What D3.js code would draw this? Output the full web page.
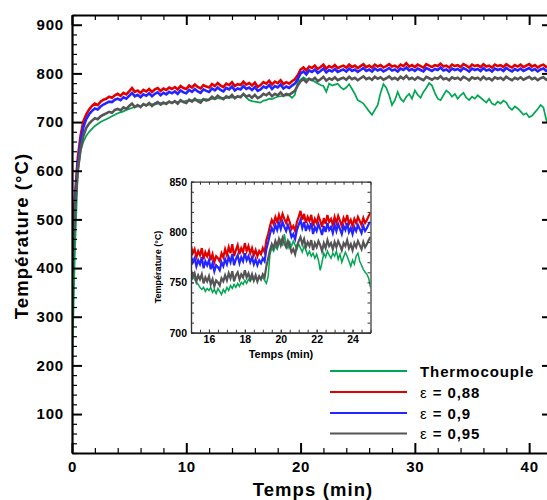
<!DOCTYPE html>
<html><head><meta charset="utf-8">
<script src="https://cdn.jsdelivr.net/npm/d3@7"></script>
<style>body{margin:0;background:#fff}svg{display:block}</style>
</head><body><svg id="c" width="547" height="500"></svg>
<script>
// ---------- DATA ----------
const seriesNames = ["Thermocouple", "0,88", "0,9", "0,95"];
const seriesColors = ["#00a651", "#e00000", "#2424ff", "#555555"];
const mainStart = 0, mainStep = 0.25;   // minutes
const thermocouple = [
 190,430,595,640,660,672,680,686,692,696,700,703,
 706,709,712,715,718,720,722,725,727,729,731,732,
 733,735,734,736,737,736,738,739,738,740,741,740,
 742,741,743,742,744,743,745,744,746,745,746,747,
 746,748,747,749,748,750,749,751,750,752,751,753,
 757,750,745,743,742,741,740,744,745,748,747,750,
 752,753,754,755,755,750,756,783,787,792,788,789,
 787,783,779,776,774,762,779,775,777,779,772,767,
 771,778,768,758,745,742,738,730,722,715,725,735,
 760,778,770,755,735,745,762,748,742,752,758,748,
 765,756,750,762,770,780,775,760,748,745,755,765,
 760,752,758,748,755,760,750,745,752,748,755,750,
 745,740,748,738,735,742,738,744,740,730,725,732,
 728,722,715,718,710,713,720,727,735,730,705,690,
 695];
const eps088 = [
 400,545,625,672,702,716,726,733,738,735,742,746,
 748,752,750,755,758,754,760,757,763,770,762,765,
 760,766,763,768,762,767,770,764,769,766,771,768,
 772,767,774,770,768,775,771,777,772,769,776,773,
 771,778,774,780,775,772,779,776,782,774,778,776,
 783,777,780,775,781,772,776,782,779,785,777,783,
 780,786,778,782,779,784,788,796,808,812,806,814,
 811,816,809,813,818,810,815,812,817,811,814,816,
 812,818,813,816,811,815,819,813,816,812,818,814,
 817,812,815,819,814,816,812,818,815,821,814,817,
 813,818,815,812,819,816,813,817,815,820,814,816,
 812,818,815,817,813,819,816,812,818,815,817,813,
 819,814,816,812,818,815,817,813,819,815,812,817,
 814,818,813,816,819,814,817,812,816,818,813,815,
 817];
const eps090 = [
 390,530,612,660,690,706,716,723,728,726,732,736,
 739,742,741,746,748,745,751,748,754,760,753,756,
 751,757,754,759,753,758,761,755,760,757,762,759,
 763,758,765,761,759,766,762,768,763,760,767,764,
 762,769,765,771,766,763,770,767,773,765,769,767,
 774,768,771,766,772,764,767,773,770,776,768,774,
 771,777,769,773,770,775,779,788,800,804,798,806,
 803,808,801,805,810,802,807,804,809,803,806,808,
 804,810,805,808,803,807,811,805,808,804,810,806,
 809,804,807,811,806,808,804,810,807,812,806,809,
 805,810,807,804,811,808,805,809,807,812,806,808,
 804,810,807,809,805,811,808,804,810,807,809,805,
 811,806,808,804,810,807,809,805,811,807,804,809,
 806,810,805,808,811,806,809,804,808,810,805,807,
 809];
const eps095 = [
 380,520,600,645,672,688,697,703,708,706,712,715,
 718,721,719,725,727,724,730,727,733,738,731,735,
 731,737,734,739,733,738,741,736,740,737,742,739,
 743,738,745,741,739,746,742,748,743,740,747,744,
 746,752,748,754,750,747,753,750,756,749,753,751,
 758,752,755,750,756,749,752,758,755,760,753,758,
 755,761,754,758,756,760,764,775,784,788,782,789,
 786,791,784,788,793,785,790,787,792,786,789,791,
 787,793,788,791,786,790,794,788,791,787,793,789,
 792,787,790,794,788,791,787,793,789,795,788,791,
 787,792,789,786,793,790,787,791,789,794,788,790,
 786,792,789,791,787,793,790,786,792,789,791,787,
 793,788,790,786,792,789,791,787,793,789,786,791,
 788,792,787,790,793,788,791,786,790,792,787,789,
 791];
// inset: 15 to 25 min, every 0.1 min
const insetStart = 15, insetStep = 0.1;
const insetThermocouple = [
 760,757,753,750,748,745,743,745,741,744,
 742,745,740,743,739,744,741,738,743,740,
 745,742,747,744,748,745,749,746,750,748,
 752,749,753,751,754,752,755,753,756,754,
 755,752,749,756,778,784,781,786,783,788,
 792,786,798,788,784,790,786,791,787,783,
 788,784,780,786,782,777,781,776,779,774,
 778,772,762,770,779,775,781,777,774,779,
 776,781,773,778,770,775,780,776,771,766,
 772,768,776,779,771,767,763,760,758,754,
 745];
const insetEps088 = [
 786,779,783,775,781,777,784,773,780,776,
 781,772,778,770,776,774,771,779,775,783,
 777,785,779,788,776,782,787,778,784,780,
 789,781,786,779,784,777,782,776,781,778,
 784,780,792,798,806,812,808,815,810,817,
 811,818,813,809,815,810,803,806,801,810,
 815,821,812,818,809,815,811,817,806,813,
 809,816,811,805,814,808,817,810,813,807,
 815,809,816,811,806,814,810,817,808,812,
 806,813,809,815,811,807,814,809,812,816,
 819];
const insetEps090 = [
 776,770,774,766,772,768,775,764,771,767,
 772,763,769,761,767,765,762,770,766,773,
 768,775,770,778,767,773,777,769,775,771,
 779,772,776,770,775,768,773,767,772,769,
 774,771,783,790,798,804,800,807,802,809,
 803,810,805,801,807,802,795,798,793,802,
 807,812,804,810,801,807,803,809,798,805,
 801,808,803,797,806,800,809,802,805,799,
 807,801,808,803,798,806,802,809,800,804,
 798,805,801,807,803,799,806,801,804,808,
 810];
const insetEps095 = [
 762,755,759,751,757,753,758,749,755,751,
 756,748,753,746,752,750,747,754,751,757,
 752,759,754,761,751,757,760,753,758,755,
 762,755,759,753,758,752,757,751,756,753,
 758,755,766,774,782,788,784,791,786,793,
 787,794,789,785,791,786,780,783,778,786,
 791,795,788,793,785,790,786,792,782,789,
 785,791,787,781,789,784,792,786,789,783,
 790,785,791,787,782,789,786,792,784,788,
 782,789,785,791,787,783,790,785,788,792,
 795];
const mainXTicks = [0, 10, 20, 30, 40];
const mainYTicks = [100, 200, 300, 400, 500, 600, 700, 800, 900];
const insetXTicks = [16, 18, 20, 22, 24];
const insetYTicks = [700, 750, 800, 850];

// ---------- DRAW ----------
const FONT = "'Liberation Sans', Arial, sans-serif";
const svg = d3.select("#c");
const x = d3.scaleLinear().domain([0, 42]).range([72, 552]);
const y = d3.scaleLinear().domain([20, 920]).range([453, 15]);

const mainSeries = [thermocouple, eps088, eps090, eps095];
const insetSeries = [insetThermocouple, insetEps088, insetEps090, insetEps095];
const drawOrder = [0, 1, 2, 3];
const mainWidths = [1.7, 2.6, 2.6, 2.6];
const insetWidths = [1.5, 2.2, 2.2, 2.2];

svg.append("defs").append("clipPath").attr("id", "clipMain")
  .append("rect").attr("x", x(0)).attr("y", y(920)).attr("width", x(42) - x(0)).attr("height", y(20) - y(920));

const gMain = svg.append("g").attr("clip-path", "url(#clipMain)");
drawOrder.forEach(k => {
  const vals = mainSeries[k];
  const line = d3.line().x((d, i) => x(mainStart + i * mainStep)).y(d => y(d));
  gMain.append("path").datum(vals).attr("d", line)
    .attr("fill", "none").attr("stroke", seriesColors[k]).attr("stroke-width", mainWidths[k])
    .attr("stroke-linejoin", "miter");
});

function styleAxis(g, w, fs, ls) {
  g.select(".domain").attr("stroke", "#000").attr("stroke-width", w);
  g.selectAll("text").attr("font-family", FONT).attr("font-weight", "bold")
    .attr("font-size", fs).attr("fill", "#000").attr("letter-spacing", ls);
}
const mainMinorX = d3.range(0, 43, 2).filter(v => v % 10 !== 0);
const mainMinorY = d3.range(20, 921, 20).filter(v => v % 100 !== 0);

// bottom
let g = svg.append("g").attr("transform", `translate(0,${y(20)})`);
g.call(d3.axisBottom(x).tickValues(mainMinorX).tickSize(-5).tickSizeOuter(0).tickFormat(""));
g.selectAll(".tick line").attr("stroke-width", 1.2);
g = svg.append("g").attr("transform", `translate(0,${y(20)})`);
g.call(d3.axisBottom(x).tickValues(mainXTicks).tickSize(-10).tickSizeOuter(0).tickPadding(8).tickFormat(d3.format("d")));
g.selectAll(".tick line").attr("stroke-width", 2);
styleAxis(g, 2.2, 15, 0.8);
// top
g = svg.append("g").attr("transform", `translate(0,${y(920)})`);
g.call(d3.axisTop(x).tickValues(mainMinorX).tickSize(-5).tickSizeOuter(0).tickFormat(""));
g.selectAll(".tick line").attr("stroke-width", 1.2);
g = svg.append("g").attr("transform", `translate(0,${y(920)})`);
g.call(d3.axisTop(x).tickValues(mainXTicks).tickSize(-10).tickSizeOuter(0).tickFormat(""));
g.selectAll(".tick line").attr("stroke-width", 2);
styleAxis(g, 2.2, 15, 0);
// left
g = svg.append("g").attr("transform", `translate(${x(0)},0)`);
g.call(d3.axisLeft(y).tickValues(mainMinorY).tickSize(-5).tickSizeOuter(0).tickFormat(""));
g.selectAll(".tick line").attr("stroke-width", 1.2);
g = svg.append("g").attr("transform", `translate(${x(0)},0)`);
g.call(d3.axisLeft(y).tickValues(mainYTicks).tickSize(-10).tickSizeOuter(0).tickPadding(8).tickFormat(d3.format("d")));
g.selectAll(".tick line").attr("stroke-width", 2);
styleAxis(g, 2.2, 15, 0.8);
// right
g = svg.append("g").attr("transform", `translate(${x(42)},0)`);
g.call(d3.axisRight(y).tickValues(mainMinorY).tickSize(-5).tickSizeOuter(0).tickFormat(""));
g.selectAll(".tick line").attr("stroke-width", 1.2);
g = svg.append("g").attr("transform", `translate(${x(42)},0)`);
g.call(d3.axisRight(y).tickValues(mainYTicks).tickSize(-10).tickSizeOuter(0).tickFormat(""));
g.selectAll(".tick line").attr("stroke-width", 2);
styleAxis(g, 2.2, 15, 0);

// titles
svg.append("text").attr("x", 313).attr("y", 496).attr("text-anchor", "middle")
  .attr("font-family", FONT).attr("font-weight", "bold").attr("font-size", 18.5)
  .attr("letter-spacing", 1.1).text("Temps (min)");
svg.append("text").attr("transform", "translate(28,236) rotate(-90)").attr("text-anchor", "middle")
  .attr("font-family", FONT).attr("font-weight", "bold").attr("font-size", 18.5)
  .attr("letter-spacing", 1.1).text("Température (°C)");

// legend
const legY = [371, 392, 413, 433.5];
seriesNames.forEach((n, k) => {
  svg.append("line").attr("x1", 330).attr("x2", 407).attr("y1", legY[k]).attr("y2", legY[k])
    .attr("stroke", seriesColors[k]).attr("stroke-width", 2);
  const t = svg.append("text").attr("x", 420).attr("y", legY[k] + 5.5)
    .attr("font-family", FONT).attr("font-size", 15).attr("letter-spacing", 0.9);
  if (k === 0) t.attr("font-weight", "bold").text(n);
  else {
    t.append("tspan").attr("font-weight", "normal").text("ε");
    t.append("tspan").attr("font-weight", "bold").text(" = " + n);
  }
});

// ---------- INSET ----------
const xi = d3.scaleLinear().domain([15, 25]).range([191, 370.5]);
const yi = d3.scaleLinear().domain([700, 850]).range([332.7, 181.7]);
svg.append("rect").attr("x", xi(15)).attr("y", yi(850)).attr("width", xi(25) - xi(15))
  .attr("height", yi(700) - yi(850)).attr("fill", "#fff");
svg.select("defs").append("clipPath").attr("id", "clipInset")
  .append("rect").attr("x", xi(15)).attr("y", yi(850)).attr("width", xi(25) - xi(15)).attr("height", yi(700) - yi(850));
const gIn = svg.append("g").attr("clip-path", "url(#clipInset)");
drawOrder.forEach(k => {
  const line = d3.line().x((d, i) => xi(insetStart + i * insetStep)).y(d => yi(d));
  gIn.append("path").datum(insetSeries[k]).attr("d", line)
    .attr("fill", "none").attr("stroke", seriesColors[k]).attr("stroke-width", insetWidths[k])
    .attr("stroke-linejoin", "miter");
});
const inMinorX = d3.range(15, 25.01, 0.5);
const inMinorY = d3.range(700, 851, 10);
function insetAxis(gen, tr) {
  const gg = svg.append("g").attr("transform", tr);
  gg.call(gen);
  gg.select(".domain").attr("stroke", "#333").attr("stroke-width", 1.2);
  gg.selectAll(".tick line").attr("stroke", "#333").attr("stroke-width", 1);
  gg.selectAll("text").attr("font-family", FONT).attr("font-weight", "bold").attr("font-size", 10.5).attr("fill", "#000");
  return gg;
}
insetAxis(d3.axisBottom(xi).tickValues(inMinorX).tickSize(-3).tickSizeOuter(0).tickFormat(""), `translate(0,${yi(700)})`);
insetAxis(d3.axisBottom(xi).tickValues(insetXTicks).tickSize(-3).tickSizeOuter(0).tickPadding(3).tickFormat(d3.format("d")), `translate(0,${yi(700)})`);
insetAxis(d3.axisTop(xi).tickValues(inMinorX).tickSize(-3).tickSizeOuter(0).tickFormat(""), `translate(0,${yi(850)})`);
insetAxis(d3.axisLeft(yi).tickValues(inMinorY).tickSize(-3).tickSizeOuter(0).tickFormat(""), `translate(${xi(15)},0)`);
insetAxis(d3.axisLeft(yi).tickValues(insetYTicks).tickSize(-3).tickSizeOuter(0).tickPadding(4).tickFormat(d3.format("d")), `translate(${xi(15)},0)`);
insetAxis(d3.axisRight(yi).tickValues(inMinorY).tickSize(-3).tickSizeOuter(0).tickFormat(""), `translate(${xi(25)},0)`);

svg.append("text").attr("x", 281).attr("y", 357.5).attr("text-anchor", "middle")
  .attr("font-family", FONT).attr("font-weight", "bold").attr("font-size", 11).text("Temps (min)");
svg.append("text").attr("transform", "translate(161,267) rotate(-90)").attr("text-anchor", "middle")
  .attr("font-family", FONT).attr("font-weight", "bold").attr("font-size", 9).text("Température (°C)");
</script></body></html>
